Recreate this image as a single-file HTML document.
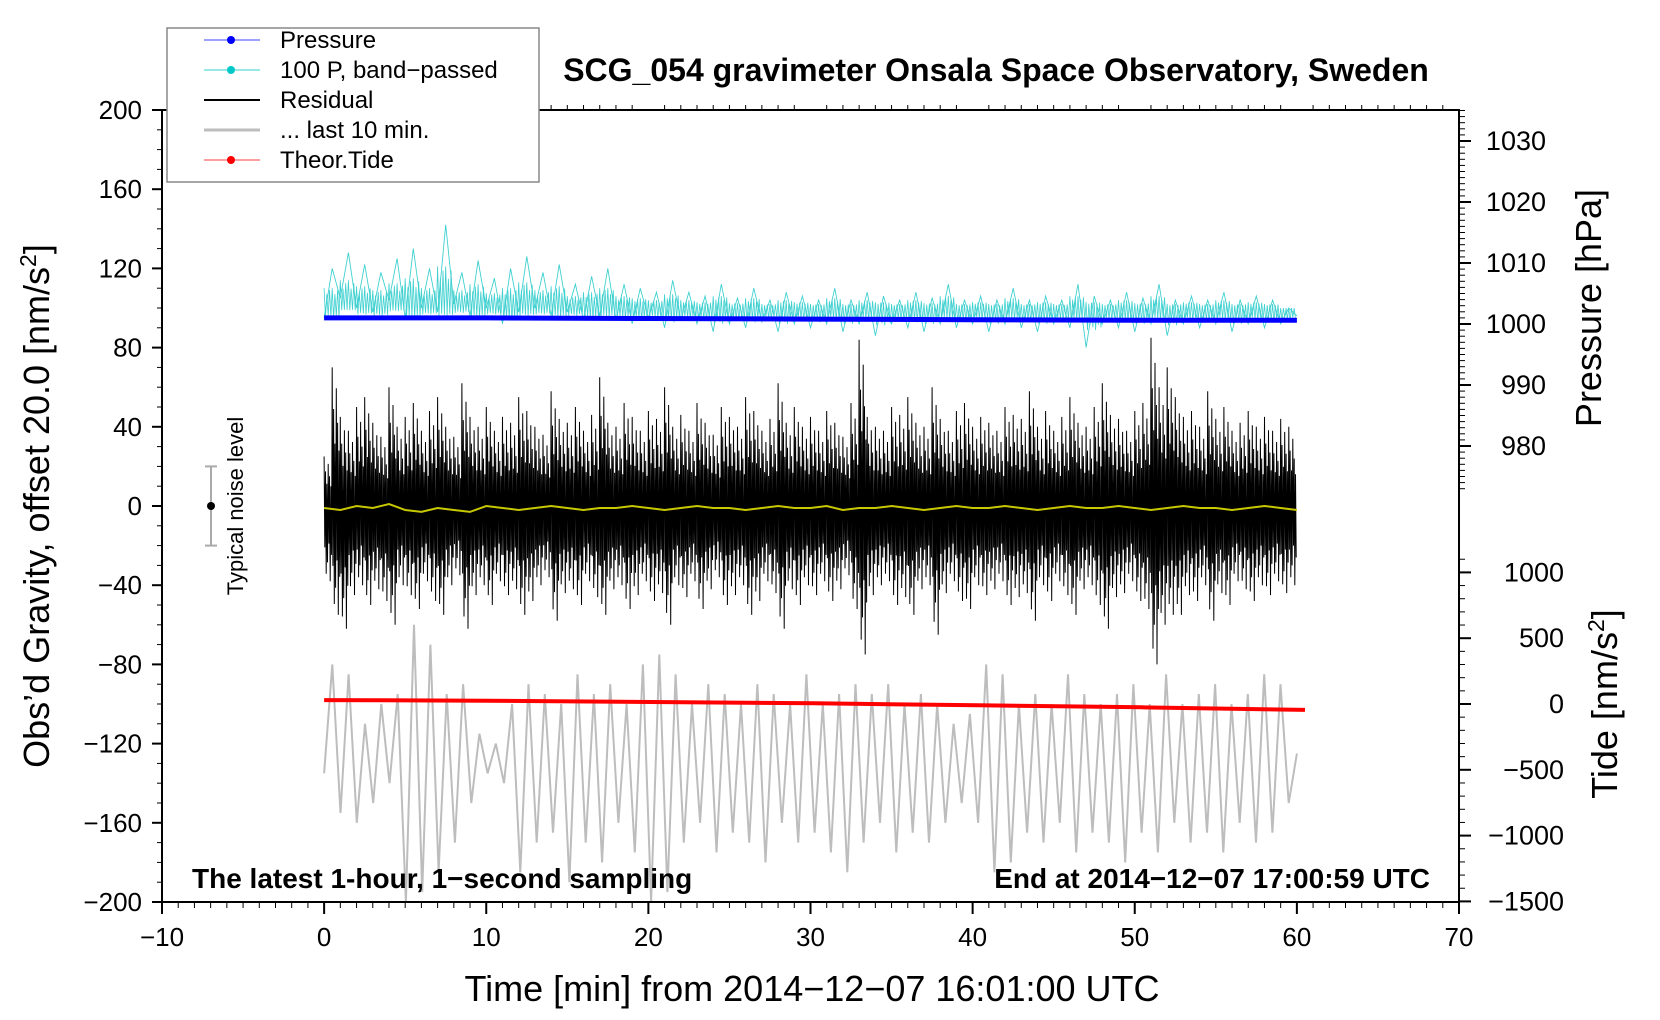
<!DOCTYPE html>
<html><head><meta charset="utf-8"><style>
html,body{margin:0;padding:0;background:#fff;}
svg{display:block;font-family:"Liberation Sans",Arial,sans-serif;}
</style></head><body>
<svg id="chart" width="1660" height="1020" viewBox="0 0 1660 1020" xmlns="http://www.w3.org/2000/svg" style="position:absolute;left:0;top:0">
<g id="marks"></g>
<g id="axes"></g>
</svg>
<script>
// ---- data ----
const xTicks = [-10,0,10,20,30,40,50,60,70];
const yTicks = [200,160,120,80,40,0,-40,-80,-120,-160,-200];
const pTicks = [1030,1020,1010,1000,990,980];
const tideTicks = [1000,500,0,-500,-1000,-1500];
const pressure = [1001.0,1001.0,1000.9,1000.8,1000.7,1000.6,1000.6];
const tide = [30,25,15,5,-10,-25,-45];
const yellow = [-1,-2,0,-1,1,-2,-3,-1,-2,-3,0,-1,-2,-1,0,-1,-2,-1,-1,0,-1,-2,-1,0,-1,-1,-2,-1,0,-1,-1,0,-2,-1,-1,0,-1,-2,-1,0,-1,-1,0,-1,-2,-1,0,-1,-1,0,-1,-2,-1,0,-1,-1,-2,-1,0,-1,-2];
const resHi = [25,70,45,38,50,55,42,35,60,40,45,52,38,48,55,40,35,62,45,40,50,38,45,42,55,48,40,36,58,44,42,50,38,46,65,42,40,52,45,38,48,44,60,40,46,38,52,42,36,50,45,40,55,48,38,44,62,42,50,40,45,38,48,42,35,52,84,45,40,38,50,46,55,42,40,60,44,38,48,52,40,45,42,38,50,46,44,58,40,48,38,45,55,42,40,50,62,46,44,38,48,52,85,60,70,55,45,48,40,58,44,50,38,42,48,40,45,38,44,40,42];
const resLo = [-38,-55,-62,-45,-40,-50,-42,-48,-60,-40,-45,-52,-38,-48,-55,-40,-35,-62,-45,-40,-50,-38,-45,-42,-55,-48,-40,-36,-58,-44,-42,-50,-38,-46,-55,-42,-40,-52,-45,-38,-48,-44,-60,-40,-46,-38,-52,-42,-36,-50,-45,-40,-55,-48,-38,-44,-62,-42,-50,-40,-45,-38,-48,-42,-35,-52,-75,-45,-40,-38,-50,-46,-55,-42,-40,-65,-44,-38,-48,-52,-40,-45,-42,-38,-50,-46,-44,-58,-40,-48,-38,-45,-55,-42,-40,-50,-62,-46,-44,-38,-48,-52,-80,-60,-55,-55,-45,-48,-40,-58,-44,-50,-38,-42,-48,-40,-45,-38,-44,-40,-42];
const cyan = [95,120,105,128,100,122,98,118,104,125,95,130,100,120,98,142,102,118,96,124,100,115,92,120,98,126,100,118,96,122,98,112,94,116,96,120,94,112,92,110,95,108,90,114,94,108,92,106,88,112,92,105,90,110,93,104,88,108,92,106,90,104,92,110,88,104,92,108,86,106,92,104,90,108,88,105,92,112,90,104,92,106,88,104,92,110,90,104,88,106,92,104,90,112,80,106,92,104,90,108,88,105,92,112,86,104,92,106,90,104,92,108,88,104,92,106,90,104,92,100,96];
const gray = [-135,-80,-155,-85,-160,-110,-150,-100,-140,-95,-200,-60,-195,-70,-185,-95,-170,-90,-150,-115,-135,-120,-140,-100,-185,-90,-170,-95,-165,-100,-190,-85,-170,-95,-180,-90,-160,-100,-175,-80,-200,-75,-195,-85,-170,-100,-160,-90,-175,-95,-165,-100,-170,-90,-180,-95,-160,-100,-170,-85,-165,-100,-175,-95,-185,-90,-170,-95,-160,-90,-175,-100,-165,-95,-170,-100,-160,-110,-150,-105,-160,-80,-185,-85,-180,-100,-165,-95,-170,-100,-160,-85,-175,-95,-165,-100,-170,-95,-180,-90,-165,-100,-175,-85,-160,-100,-170,-95,-165,-90,-175,-100,-160,-95,-170,-85,-165,-90,-150,-125];

// ---- scales ----
const L=162,R=1459,T=110,B=902;
const X = v => L + (v+10)*(R-L)/80;
const Y = v => T + (200-v)*(B-T)/400;
const YP = p => 324 - (p-1000)*6.1;
const YT = t => 704 - t*0.1316;
const NS='http://www.w3.org/2000/svg';
function mk(tag, attrs, parent, text){const e=document.createElementNS(NS,tag);for(const k in attrs)e.setAttribute(k,attrs[k]);if(text!==undefined)e.textContent=text;parent.appendChild(e);return e;}
const marks=document.getElementById('marks'), axes=document.getElementById('axes');

function series(arr, t0, t1, yf){const n=arr.length;return arr.map((v,i)=>`${X(t0+(t1-t0)*i/(n-1)).toFixed(1)},${yf(v).toFixed(1)}`).join(' ');}
// display-only wiggle shape between successive readings
const shape=[1,-0.55,0.7,-0.9,0.45,-0.75,0.85,-0.5,0.6,-1,0.4,-0.65];
function dense(hi,lo,base,yf,sh){const n=hi.length;const pts=[];for(let i=0;i<n-1;i++){const t=60*i/(n-1),dt=60/(n-1);for(let k=0;k<sh.length;k++){const f=sh[k];const v=f>0?base+(hi[i]-base)*f:base+(lo[i]-base)*(-f);pts.push(`${X(t+dt*k/sh.length).toFixed(1)},${yf(v).toFixed(1)}`);}}return pts.join(' ');}
const cshape=[0.5,-0.4,0.35,-0.3,0.45,-0.35];

let e=mk('polyline',{points:series(gray,0,60,Y),fill:'none',stroke:'#bdbdbd','stroke-width':2},marks);

e=mk('polyline',{points:dense(resHi,resLo,0,Y,shape),fill:'none',stroke:'#000','stroke-width':1},marks);

e=mk('polyline',{points:series(yellow,0,60,Y),fill:'none',stroke:'#c8c800','stroke-width':2},marks);

{const hi=cyan.map((v,i)=>i%2?v:(cyan[i+1]||v));const lo=cyan.map((v,i)=>i%2?(cyan[i-1]):v);
const pts=[];const n=cyan.length;for(let i=0;i<n;i++){pts.push(`${X(60*i/(n-1)).toFixed(1)},${Y(cyan[i]).toFixed(1)}`);}
e=mk('polyline',{points:dense(hi,lo.map(v=>v-8),100,Y,cshape),fill:'none',stroke:'#40d0d0','stroke-width':0.8},marks);

e=mk('polyline',{points:pts.join(' '),fill:'none',stroke:'#40d0d0','stroke-width':0.9},marks);
}
e=mk('polyline',{points:series(pressure,0,60,YP),fill:'none',stroke:'#0000ff','stroke-width':5},marks);

e=mk('polyline',{points:series(tide,0,60.5,YT),fill:'none',stroke:'#ff0000','stroke-width':4},marks);


e=mk('g',{},marks);
mk('line',{x1:211,x2:211,y1:Y(20),y2:Y(-20),stroke:'#aaa','stroke-width':2},e);
mk('line',{x1:205,x2:217,y1:Y(20),y2:Y(20),stroke:'#aaa','stroke-width':2},e);
mk('line',{x1:205,x2:217,y1:Y(-20),y2:Y(-20),stroke:'#aaa','stroke-width':2},e);
mk('circle',{cx:211,cy:Y(0),r:4,fill:'#000'},e);
e=mk('text',{x:0,y:0,transform:`translate(243,${Y(0)}) rotate(-90)`,'text-anchor':'middle','font-size':22},marks,'Typical noise level');


e=mk('rect',{x:L,y:T,width:R-L,height:B-T,fill:'none',stroke:'#000','stroke-width':2},axes);

for(let v=-10;v<=70;v++){const big=v%10===0;mk('line',{x1:X(v),x2:X(v),y1:B,y2:B+(big?12:6),stroke:'#000','stroke-width':big?2:1},axes);mk('line',{x1:X(v),x2:X(v),y1:T,y2:T-(big?0:5),stroke:'#000','stroke-width':1},axes);}
xTicks.forEach(v=>{const t=mk('text',{x:X(v),y:946,'text-anchor':'middle','font-size':26},axes,String(v).replace('-','\u2212'));});
for(let v=-200;v<=200;v+=10){const big=v%40===0;mk('line',{x1:L,x2:L-(big?10:5),y1:Y(v),y2:Y(v),stroke:'#000','stroke-width':big?2:1},axes);}
yTicks.forEach(v=>{const t=mk('text',{x:142,y:Y(v)+9,'text-anchor':'end','font-size':26},axes,String(v).replace('-','\u2212'));});
for(let p=1035;p>=973;p--){const big=p%10===0;mk('line',{x1:R,x2:R+(big?12:6),y1:YP(p),y2:YP(p),stroke:'#000','stroke-width':big?2:1},axes);}
pTicks.forEach(p=>{const t=mk('text',{x:1546,y:YP(p)+9,'text-anchor':'end','font-size':27},axes,String(p));});
for(let t=1100;t>=-1500;t-=100){const big=t%500===0;mk('line',{x1:R,x2:R+(big?12:6),y1:YT(t),y2:YT(t),stroke:'#000','stroke-width':big?2:1},axes);}
tideTicks.forEach(v=>{const t=mk('text',{x:1564,y:YT(v)+9,'text-anchor':'end','font-size':27},axes,String(v).replace('-','\u2212'));});
</script>
<svg style="position:absolute;left:0;top:0" width="1660" height="1020">
<text x="996" y="81" text-anchor="middle" font-size="32" font-weight="bold" font-family="Liberation Sans, sans-serif">SCG_054 gravimeter Onsala Space Observatory, Sweden</text>
<text x="812" y="1001" text-anchor="middle" font-size="36" font-family="Liberation Sans, sans-serif">Time [min] from 2014−12−07 16:01:00 UTC</text>
<text transform="translate(49,506) rotate(-90)" text-anchor="middle" font-size="36" font-family="Liberation Sans, sans-serif">Obs’d Gravity, offset 20.0 [nm/s<tspan font-size="23" dy="-13">2</tspan><tspan dy="13">]</tspan></text>
<text transform="translate(1601,308) rotate(-90)" text-anchor="middle" font-size="36" font-family="Liberation Sans, sans-serif">Pressure [hPa]</text>
<text transform="translate(1617,704) rotate(-90)" text-anchor="middle" font-size="36" font-family="Liberation Sans, sans-serif">Tide [nm/s<tspan font-size="23" dy="-13">2</tspan><tspan dy="13">]</tspan></text>
<text x="192" y="888" font-size="28" font-weight="bold" font-family="Liberation Sans, sans-serif">The latest 1-hour, 1−second sampling</text>
<text x="1430" y="888" text-anchor="end" font-size="28" font-weight="bold" font-family="Liberation Sans, sans-serif">End at 2014−12−07 17:00:59 UTC</text>
<g font-family="Liberation Sans, sans-serif" font-size="24">
<rect x="167" y="28" width="372" height="154" fill="#fff" stroke="#888" stroke-width="1.5"/>
<g><line x1="204" x2="260" y1="40" y2="40" stroke="#4040ff"/><circle cx="231" cy="40" r="4" fill="#0000ff"/><text x="280" y="48">Pressure</text></g>
<g><line x1="204" x2="260" y1="70" y2="70" stroke="#30d0d0"/><circle cx="231" cy="70" r="4" fill="#00c8c8"/><text x="280" y="78">100 P, band−passed</text></g>
<g><line x1="204" x2="260" y1="100" y2="100" stroke="#000" stroke-width="2"/><text x="280" y="108">Residual</text></g>
<g><line x1="204" x2="260" y1="130" y2="130" stroke="#bdbdbd" stroke-width="3"/><text x="280" y="138">... last 10 min.</text></g>
<g><line x1="204" x2="260" y1="160" y2="160" stroke="#ff4040"/><circle cx="231" cy="160" r="4" fill="#ff0000"/><text x="280" y="168">Theor.Tide</text></g>
</g>
</svg>
</body></html>
